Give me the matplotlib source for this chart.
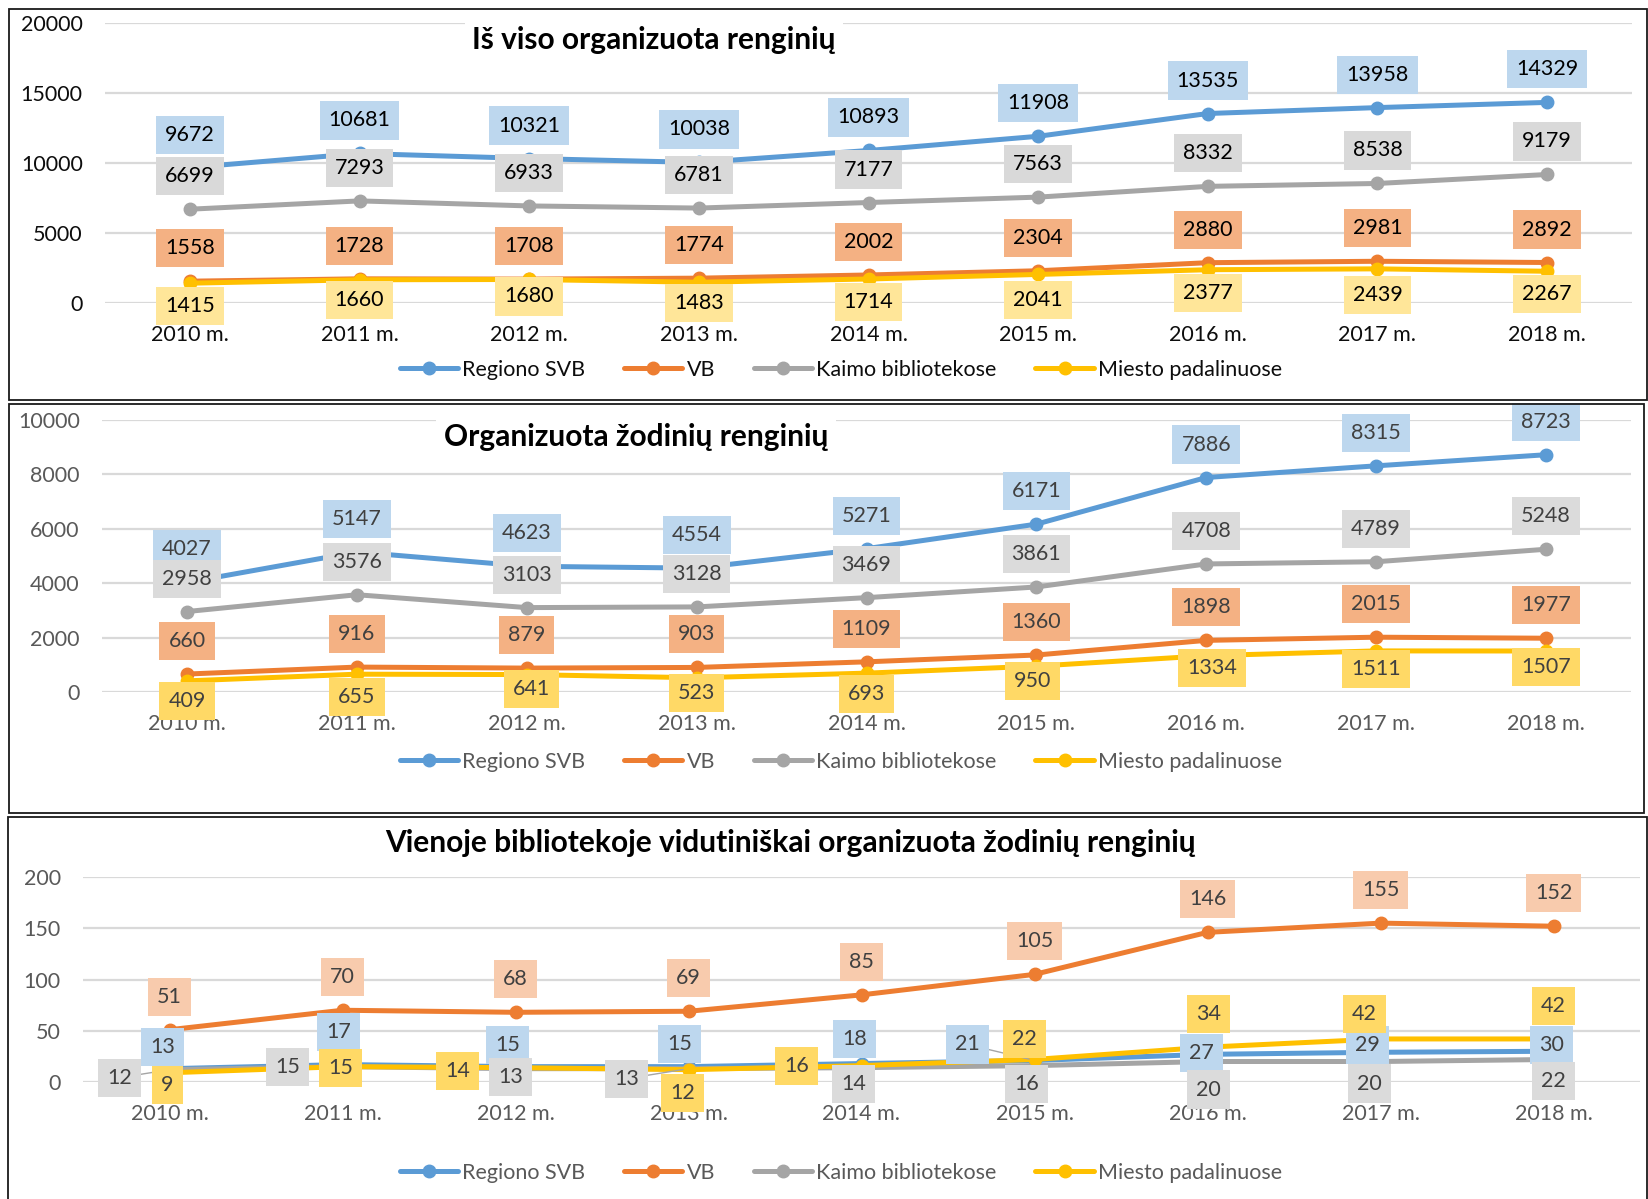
import matplotlib
matplotlib.use('Agg')
import matplotlib.pyplot as plt
from matplotlib.patches import Rectangle

FONT = ['Lato', 'DejaVu Sans']
plt.rcParams['font.family'] = FONT

# ---------------- data ----------------
years = ['2010 m.', '2011 m.', '2012 m.', '2013 m.', '2014 m.',
         '2015 m.', '2016 m.', '2017 m.', '2018 m.']
series_names = ['Regiono SVB', 'VB', 'Kaimo bibliotekose', 'Miesto padalinuose']

titles = ['Iš viso organizuota renginių',
          'Organizuota žodinių renginių',
          'Vienoje bibliotekoje vidutiniškai organizuota žodinių renginių']

total_regiono = [9672, 10681, 10321, 10038, 10893, 11908, 13535, 13958, 14329]
total_vb = [1558, 1728, 1708, 1774, 2002, 2304, 2880, 2981, 2892]
total_kaimo = [6699, 7293, 6933, 6781, 7177, 7563, 8332, 8538, 9179]
total_miesto = [1415, 1660, 1680, 1483, 1714, 2041, 2377, 2439, 2267]

verbal_regiono = [4027, 5147, 4623, 4554, 5271, 6171, 7886, 8315, 8723]
verbal_vb = [660, 916, 879, 903, 1109, 1360, 1898, 2015, 1977]
verbal_kaimo = [2958, 3576, 3103, 3128, 3469, 3861, 4708, 4789, 5248]
verbal_miesto = [409, 655, 641, 523, 693, 950, 1334, 1511, 1507]

avg_regiono = [13, 17, 15, 15, 18, 21, 27, 29, 30]
avg_vb = [51, 70, 68, 69, 85, 105, 146, 155, 152]
avg_kaimo = [12, 15, 13, 13, 14, 16, 20, 20, 22]
avg_miesto = [9, 15, 14, 12, 16, 22, 34, 42, 42]

yticks_total = [0, 5000, 10000, 15000, 20000]
yticks_verbal = [0, 2000, 4000, 6000, 8000, 10000]
yticks_avg = [0, 50, 100, 150, 200]

# ---------------- style / layout ----------------
W, H = 1648, 1199
line_colors = ['#5B9BD5', '#ED7D31', '#A5A5A5', '#FFC000']

def fx(px):
    return px / W

def fy(py):
    return 1 - py / H

# label offsets in pixels (dx, dy up)
def const(dx, dy):
    return [(dx, dy)] * 9

panels = [
    dict(data=[total_regiono, total_vb, total_kaimo, total_miesto],
         yticks=yticks_total, ax_px=(105, 23, 1632, 303),
         title=titles[0], title_xy=(654, 40), title_box=True,
         legend_xy=(841, 370), rect=(9, 9, 1647, 400),
         text_color='#000000', tick_color='#0d0d0d', label_text='#000000',
         label_fc=['#BDD7EE', '#F4B183', '#D9D9D9', '#FFE699'],
         offsets=[const(0, 33), const(0, 33), const(0, 33),
                  [(0, -23), (0, -20), (0, -17), (0, -21), (0, -23),
                   (0, -26), (0, -23), (0, -26), (0, -23)]],
         leaders=[]),
    dict(data=[verbal_regiono, verbal_vb, verbal_kaimo, verbal_miesto],
         yticks=yticks_verbal, ax_px=(102, 420, 1631, 692),
         title=titles[1], title_xy=(636, 437), title_box=True,
         legend_xy=(841, 762), rect=(9, 404, 1644, 813),
         text_color='#000000', tick_color='#595959', label_text='#404040',
         label_fc=['#BDD7EE', '#F4B183', '#DBDBDB', '#FFD966'],
         offsets=[const(0, 33), const(0, 33), const(0, 33),
                  [(0, -20), (0, -23), (5, -14), (0, -15), (0, -21),
                   (-4, -15), (6, -12), (0, -18), (0, -16)]],
         leaders=[]),
    dict(data=[avg_regiono, avg_vb, avg_kaimo, avg_miesto],
         yticks=yticks_avg, ax_px=(83, 877, 1640, 1082),
         title=titles[2], title_xy=(790, 843), title_box=False,
         legend_xy=(841, 1173), rect=(8, 817, 1647, 1205),
         text_color='#000000', tick_color='#595959', label_text='#404040',
         label_fc=['#BDD7EE', '#F8CBAD', '#DBDBDB', '#FFD966'],
         offsets=[[(-7, 22), (-4, 33), (-8, 22), (-9, 23), (-7, 25),
                   (-67, 16), (-6, 1), (-13, 7), (-2, 6)],
                  const(0, 33),
                  [(-50, -8), (-55, 0), (-5, -8), (-62, -10), (-8, -16),
                   (-8, -18), (1, -28), (-11, -22), (0, -22)],
                  [(-2, -12), (-2, -1), (-58, -3), (-6, -23), (-65, 0),
                   (-10, 20), (1, 33), (-16, 25), (0, 33)]],
         leaders=[(2, 0), (2, 3), (0, 5)]),
]

fig = plt.figure(figsize=(W / 100, H / 100), dpi=100)
fig.patch.set_facecolor('white')

PT = 0.72  # points per pixel at 100 dpi
x = list(range(len(years)))

for p in panels:
    x0, y0, x1, y1 = p['ax_px']
    ax = fig.add_axes([fx(x0), fy(y1), fx(x1 - x0), (y1 - y0) / H])
    ax.set_facecolor('none')
    for s in ax.spines.values():
        s.set_visible(False)
    ax.set_xlim(-0.5, len(years) - 0.5)
    ax.set_ylim(p['yticks'][0], p['yticks'][-1])
    ax.set_yticks(p['yticks'])
    ax.set_yticklabels([str(t) for t in p['yticks']])
    ax.set_xticks(x)
    ax.set_xticklabels(years)
    ax.tick_params(axis='both', length=0, labelsize=15.5, colors=p['tick_color'])
    ax.tick_params(axis='y', pad=16)
    ax.tick_params(axis='x', pad=15.5)
    ax.grid(axis='y', color='#D9D9D9', linewidth=1.6, zorder=0)
    ax.set_axisbelow(True)

    handles = []
    for i, vals in enumerate(p['data']):
        ln, = ax.plot(x, vals, color=line_colors[i], linewidth=3.6,
                      marker='o', markersize=9, zorder=3 + i * 0.1,
                      solid_capstyle='round', label=series_names[i],
                      clip_on=False)
        handles.append(ln)

    for i, vals in enumerate(p['data']):
        for j, v in enumerate(vals):
            dx, dy = p['offsets'][i][j]
            arrow = None
            if (i, j) in p['leaders']:
                arrow = dict(arrowstyle='-', color='#A5A5A5', lw=1,
                             shrinkA=0, shrinkB=4)
            ax.annotate(str(v), xy=(j, v), xytext=(dx * PT, dy * PT),
                        textcoords='offset points', ha='center', va='center',
                        fontsize=15.5, color=p['label_text'],
                        bbox=dict(boxstyle='square,pad=0.42',
                                  fc=p['label_fc'][i], ec='none'),
                        arrowprops=arrow, zorder=6 + i, annotation_clip=False)

    tb = dict(boxstyle='square,pad=0.25', fc='white', ec='none') if p['title_box'] else None
    fig.text(fx(p['title_xy'][0]), fy(p['title_xy'][1]), p['title'],
             ha='center', va='center', fontsize=21.5, fontweight='bold',
             color=p['text_color'], bbox=tb, zorder=10)

    fig.legend(handles=handles, labels=series_names, loc='center',
               bbox_to_anchor=(fx(p['legend_xy'][0]), fy(p['legend_xy'][1])),
               ncol=4, frameon=False, fontsize=15.5, handlelength=2.7,
               handletextpad=0.2, columnspacing=1.8, labelcolor=p['tick_color'],
               borderaxespad=0, borderpad=0)

    rx0, ry0, rx1, ry1 = p['rect']
    fig.add_artist(Rectangle((fx(rx0), fy(ry1)), fx(rx1 - rx0), (ry1 - ry0) / H,
                             transform=fig.transFigure, fill=False,
                             edgecolor='#1a1a1a', linewidth=1.3, zorder=20))

fig.savefig('out.png', dpi=100, facecolor='white')
